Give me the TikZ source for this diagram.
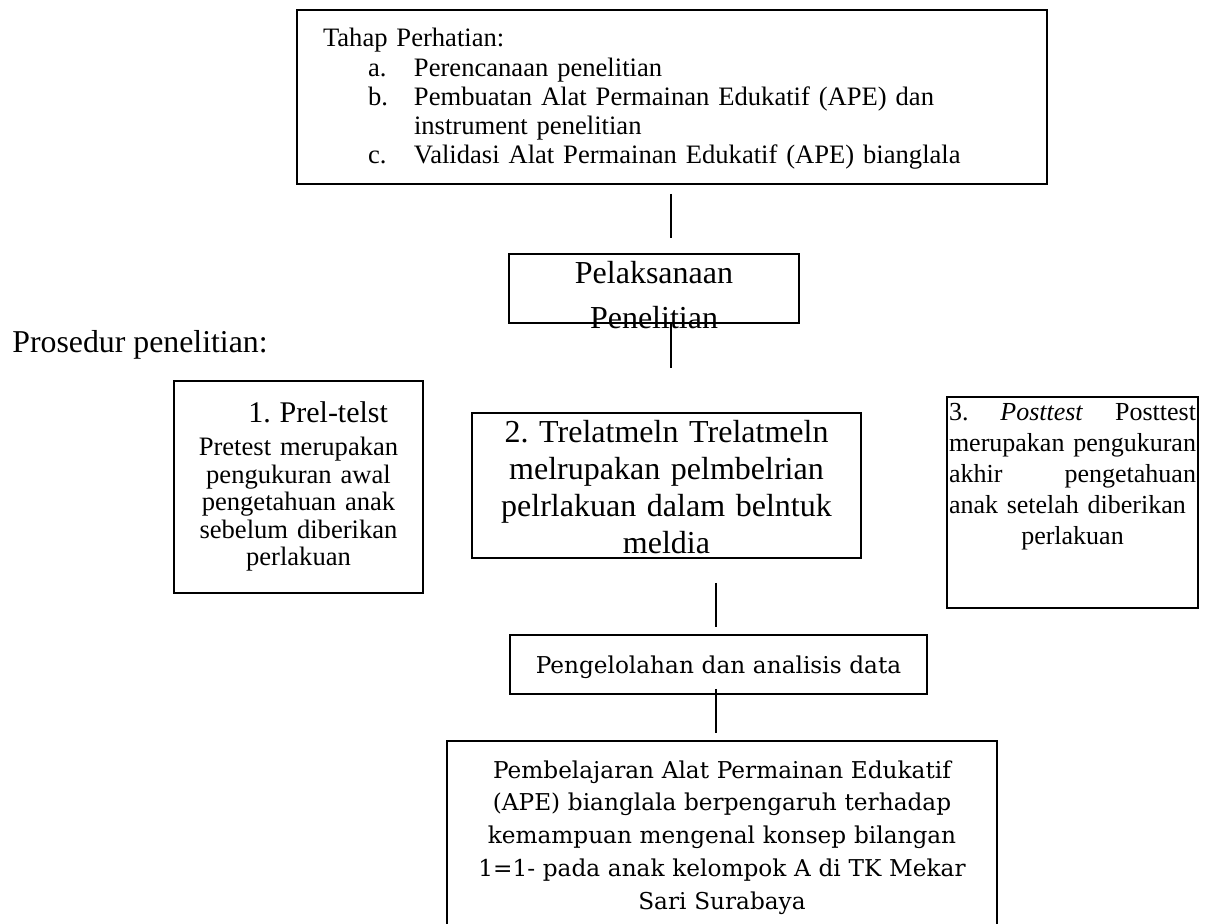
\documentclass[tikz,border=0pt]{standalone}
\usepackage{fontspec}
\setmainfont{Liberation Serif}
\newfontfamily\bodyserif{DejaVu Serif}
\frenchspacing

\begin{document}
\begin{tikzpicture}[
  x=0.5pt, y=-0.5pt,
  box/.style={draw, line width=1pt, inner sep=0pt, anchor=north west},
  link/.style={-, line width=0.6pt},
]
\useasboundingbox (0,0) rectangle (1205,924);

\node[box, text width=375pt, text height=18.5pt, text depth=68.5pt, align=left,
      font=\fontsize{13.3}{14.6}\selectfont] (tahap) at (296,9) {%
  \hspace*{13pt}Tahap Perhatian:\\
  \hspace*{35.5pt}\makebox[23pt][l]{a.}Perencanaan penelitian\\
  \hspace*{35.5pt}\makebox[23pt][l]{b.}Pembuatan Alat Permainan Edukatif (APE) dan\\
  \hspace*{58.5pt}instrument penelitian\\
  \hspace*{35.5pt}\makebox[23pt][l]{c.}Validasi Alat Permainan Edukatif (APE) bianglala};

\node[box, text width=145pt, text height=15pt, text depth=19.5pt, align=center,
      font=\fontsize{16}{22.5}\selectfont] (pel) at (508,253) {Pelaksanaan\\ Penelitian};

\node[anchor=base west, inner sep=0pt, font=\fontsize{15.9}{19}\selectfont] (judul)
  at (12,353) {Prosedur penelitian:};

\node[box, text width=124.5pt, text height=21pt, text depth=85pt, align=center,
      font=\fontsize{13.3}{13.75}\selectfont] (pre) at (173,380) {%
  \makebox[\linewidth][r]{\fontsize{15}{16.5}\selectfont 1. Prel-telst\hspace{17.5pt}}\\[2.75pt]
  Pretest merupakan\\ pengukuran awal\\ pengetahuan anak\\ sebelum diberikan\\ perlakuan};

\node[box, text width=194.5pt, text height=15pt, text depth=57.5pt, align=center,
      font=\fontsize{16}{18.5}\selectfont] (trt) at (471,412) {%
  2. Trelatmeln Trelatmeln\\ melrupakan pelmbelrian\\ pelrlakuan dalam belntuk\\ meldia};

\node[box, text width=123.5pt, inner xsep=1pt, text height=12pt, text depth=93.5pt, align=left,
      font=\fontsize{13}{15.5}\selectfont] (post) at (946,396) {%
  \makebox[\linewidth][l]{3.\hfill\textit{Posttest}\hfill Posttest}\\
  \makebox[\linewidth][l]{merupakan\hfill pengukuran}\\
  \makebox[\linewidth][l]{akhir\hfill pengetahuan}\\
  \makebox[\linewidth][l]{anak setelah diberikan}\\
  \makebox[\linewidth]{perlakuan}};

\node[box, text width=208.5pt, text height=19.5pt, text depth=10pt, align=center,
      font=\bodyserif\fontsize{11.6}{14}\selectfont] (olah) at (509,634)
  {Pengelolahan dan analisis data};

\node[box, text width=275pt, text height=18.5pt, text depth=73.5pt, align=center,
      font=\bodyserif\fontsize{11.6}{16.4}\selectfont] (hasil) at (446,740) {%
  Pembelajaran Alat Permainan Edukatif\\
  (APE) bianglala berpengaruh terhadap\\
  kemampuan mengenal konsep bilangan\\
  1=1- pada anak kelompok A di TK Mekar\\
  Sari Surabaya};

%% connectors
\coordinate (j1) at (671,0);
\coordinate (j2) at (716,0);
\draw[link, shorten <=4.5pt, shorten >=7.5pt] (j1 |- tahap.south) -- (j1 |- pel.north);
\draw[link, shorten >=22pt] (j1 |- pel.south) -- (j1 |- trt.north);
\draw[link, shorten <=12pt, shorten >=3.5pt] (j2 |- trt.south) -- (j2 |- olah.north);
\draw[link, shorten <=-3pt, shorten >=3.5pt] (j2 |- olah.south) -- (j2 |- hasil.north);
\end{tikzpicture}
\end{document}
